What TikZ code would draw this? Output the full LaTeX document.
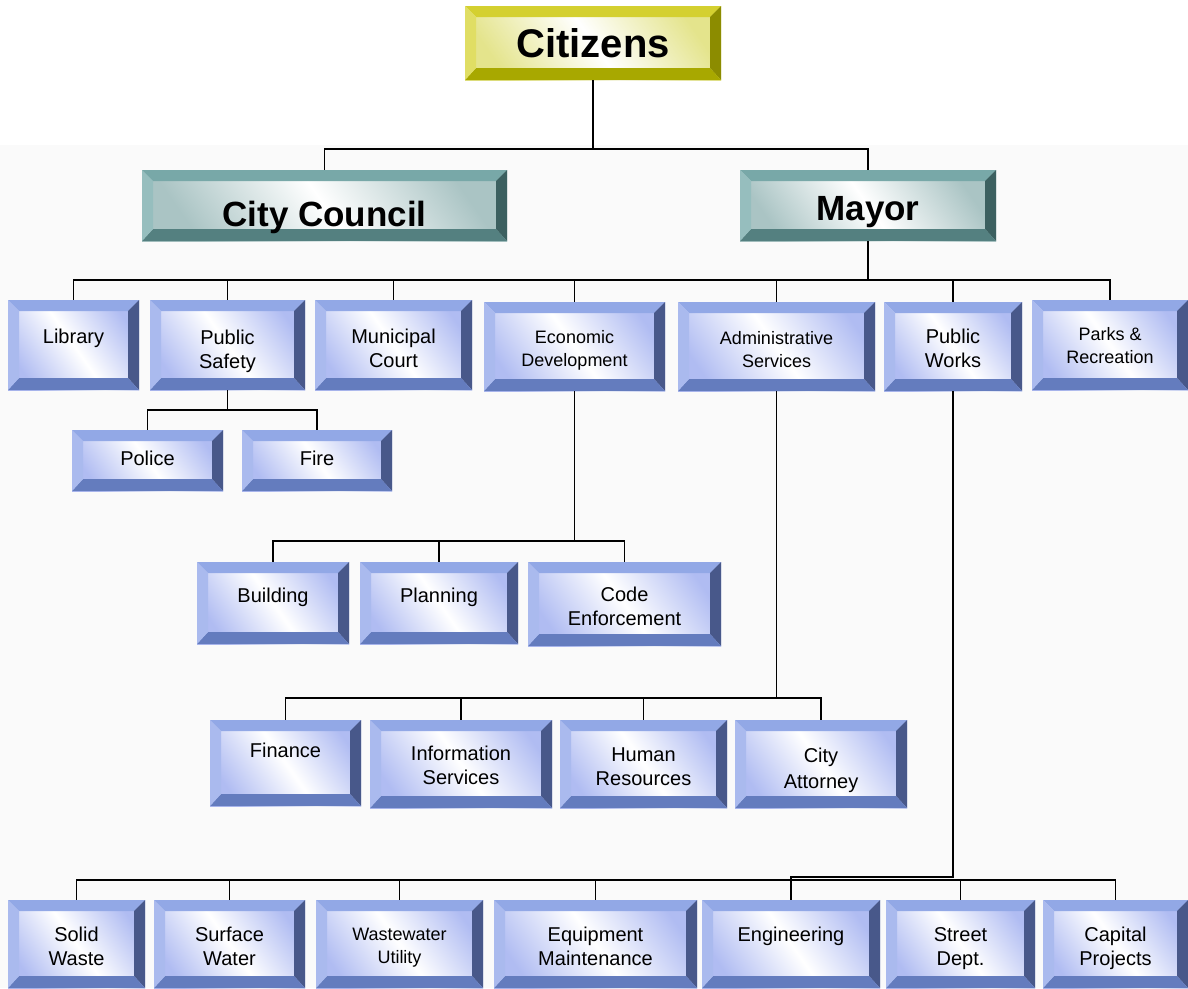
\documentclass[tikz,border=0pt]{standalone}
\usepackage{fontspec}
\setmainfont{Liberation Sans}
\usetikzlibrary{calc}
\definecolor{btop}{RGB}{146,168,230}
\definecolor{bleft}{RGB}{170,186,238}
\definecolor{bright}{RGB}{72,88,138}
\definecolor{bbot}{RGB}{100,124,190}
\definecolor{bface}{RGB}{176,188,242}
\definecolor{ttop}{RGB}{120,168,168}
\definecolor{tleft}{RGB}{150,190,190}
\definecolor{tright}{RGB}{60,96,96}
\definecolor{tbot}{RGB}{84,128,128}
\definecolor{tface}{RGB}{170,196,196}
\definecolor{ytop}{RGB}{212,208,48}
\definecolor{yleft}{RGB}{224,222,100}
\definecolor{yright}{RGB}{140,140,0}
\definecolor{ybot}{RGB}{168,168,0}
\definecolor{yface}{RGB}{228,228,140}
% text with vertical shift, possibly several lines
\newcommand\tx[2]{\raisebox{#1}[\height][\depth]{\begin{tabular}{@{}c@{}}#2\end{tabular}}}
\newcommand\defbev[6]{%
\tikzset{#1/.style={draw=none, inner sep=0pt, align=center,
 path picture={
  \coordinate (pa) at (path picture bounding box.north west);
  \coordinate (pb) at (path picture bounding box.north east);
  \coordinate (pc) at (path picture bounding box.south east);
  \coordinate (pd) at (path picture bounding box.south west);
  \shade[top color=#6, bottom color=#6, middle color=white, shading angle=-55] (pa) rectangle (pc);
  \fill[#2] (pa) -- (pb) -- ([shift={(-11pt,-11pt)}]pb) -- ([shift={(11pt,-11pt)}]pa) -- cycle;
  \fill[#4] (pb) -- (pc) -- ([shift={(-11pt,12pt)}]pc) -- ([shift={(-11pt,-11pt)}]pb) -- cycle;
  \fill[#5] (pc) -- (pd) -- ([shift={(11pt,12pt)}]pd) -- ([shift={(-11pt,12pt)}]pc) -- cycle;
  \fill[#3] (pd) -- (pa) -- ([shift={(11pt,-11pt)}]pa) -- ([shift={(11pt,12pt)}]pd) -- cycle;
 }}}}
\defbev{bluebox}{btop}{bleft}{bright}{bbot}{bface}
\defbev{tealbox}{ttop}{tleft}{tright}{tbot}{tface}
\defbev{yelbox}{ytop}{yleft}{yright}{ybot}{yface}
\tikzset{
 small/.style={font=\fontsize{20}{24}\selectfont},
 smaller/.style={font=\fontsize{18}{23}\selectfont},
 conn/.style={draw=black, line width=1.3pt},
}
% \bx{style}{x1}{y1}{x2}{y2}{name}{text}
\newcommand\bx[7]{\node[#1, minimum width={(#4-#2)*1pt}, minimum height={(#5-#3)*1pt}] (#6) at ({(#2+#4)/2},{(#3+#5)/2}) {#7};}
\begin{document}
\begin{tikzpicture}[x=1pt,y=-1pt]
\useasboundingbox (0,0) rectangle (1188,988);
\fill[black!2] (0,145) rectangle (1188,988);

\bx{yelbox,font=\fontsize{40}{44}\selectfont\bfseries}{465}{6}{721}{80}{cit}{Citizens}
\bx{tealbox,font=\fontsize{35}{40}\selectfont\bfseries}{142}{170}{507}{241}{cc}{\tx{-13pt}{City Council}}
\bx{tealbox,font=\fontsize{35}{40}\selectfont\bfseries}{740}{170}{996}{241}{may}{\tx{-7pt}{Mayor}}

\bx{bluebox,small}{8}{300}{139}{390}{lib}{\tx{6pt}{Library}}
\bx{bluebox,small}{150}{300}{305}{390}{ps}{\tx{-7pt}{Public\\Safety}}
\bx{bluebox,small}{315}{300}{472}{390}{mc}{\tx{-6pt}{Municipal\\Court}}
\bx{bluebox,smaller}{484}{302}{665}{391}{ed}{\tx{-4pt}{Economic\\Development}}
\bx{bluebox,smaller}{678}{302}{875}{391}{as}{\tx{-5pt}{Administrative\\Services}}
\bx{bluebox,small}{884}{302}{1022}{391}{pw}{\tx{-4pt}{Public\\Works}}
\bx{bluebox,smaller}{1032}{300}{1188}{390}{pr}{\tx{-2pt}{Parks \&\\Recreation}}

\bx{bluebox,small}{72}{430}{223}{491}{pol}{\tx{0pt}{Police}}
\bx{bluebox,small}{242}{430}{392}{491}{fire}{\tx{0pt}{Fire}}

\bx{bluebox,small}{197}{562}{349}{644}{bld}{\tx{5pt}{Building}}
\bx{bluebox,small}{360}{562}{518}{644}{pln}{\tx{5pt}{Planning}}
\bx{bluebox,small}{528}{562}{721}{646}{code}{\tx{-5pt}{Code\\Enforcement}}

\bx{bluebox,small}{210}{720}{361}{806}{fin}{\tx{10pt}{Finance}}
\bx{bluebox,small}{370}{720}{552}{808}{is}{\tx{-4pt}{Information\\Services}}
\bx{bluebox,small}{560}{720}{727}{808}{hr}{\tx{-5pt}{Human\\Resources}}
\bx{bluebox,small}{735}{720}{907}{808}{ca}{\tx{-7pt}{City\\[2pt]Attorney}}

\bx{bluebox,small}{8}{900}{145}{988}{sw}{\tx{-5pt}{Solid\\Waste}}
\bx{bluebox,small}{154}{900}{305}{988}{sfw}{\tx{-5pt}{Surface\\Water}}
\bx{bluebox,smaller}{316}{900}{483}{988}{ww}{\tx{-3pt}{Wastewater\\Utility}}
\bx{bluebox,small}{494}{900}{697}{988}{em}{\tx{-5pt}{Equipment\\Maintenance}}
\bx{bluebox,small}{702}{900}{880}{988}{eng}{\tx{7pt}{Engineering}}
\bx{bluebox,small}{886}{900}{1035}{988}{sd}{\tx{-5pt}{Street\\Dept.}}
\bx{bluebox,small}{1043}{900}{1188}{988}{cp}{\tx{-5pt}{Capital\\Projects}}

% connectors
\coordinate (j1) at (593,149);
\draw[conn] (cit.south) -- (j1);
\draw[conn] (cc.north) |- (j1) -| (may.north);

\coordinate (j2) at (868,280);
\draw[conn] (may.south) -- (j2);
\draw[conn] (lib.north) |- (pr.north |- j2) -- (pr.north);
\foreach \n in {ps,mc,ed,as,pw} \draw[conn] (\n.north) -- (\n.north |- j2);

\coordinate (j3) at (227.5,410);
\draw[conn] (ps.south) -- (j3);
\draw[conn] (pol.north) |- (j3) -| (fire.north);

\coordinate (j4) at (574.5,541);
\draw[conn] (ed.south) -- (j4);
\draw[conn] (bld.north) |- (j4) -| (code.north);
\draw[conn] (pln.north) -- (pln.north |- j4);

\coordinate (j5) at (776.5,698);
\draw[conn] (as.south) -- (j5);
\draw[conn] (fin.north) |- (j5) -| (ca.north);
\foreach \n in {is,hr} \draw[conn] (\n.north) -- (\n.north |- j5);

\coordinate (j6) at (953,877);
\coordinate (j7) at (791,880);
\draw[conn] (pw.south) -- (j6) -- (eng.north |- j6) -- (eng.north);
\draw[conn] (sw.north) |- (cp.north |- j7) -- (cp.north);
\foreach \n in {sfw,ww,em,sd} \draw[conn] (\n.north) -- (\n.north |- j7);
\end{tikzpicture}
\end{document}
